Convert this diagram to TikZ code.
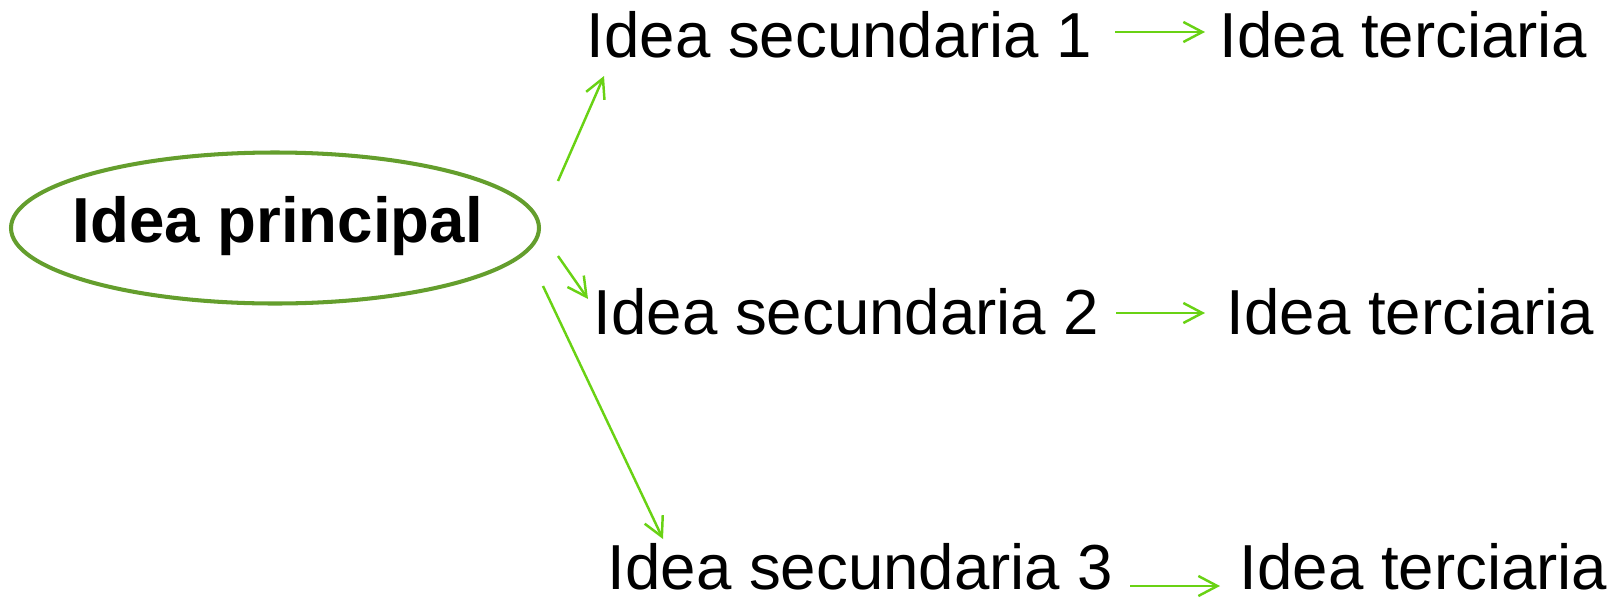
\documentclass[tikz,border=0pt]{standalone}
\usepackage{fontspec}
\setmainfont{Liberation Sans}
\usetikzlibrary{arrows.meta,shapes.geometric}
\definecolor{verdeoscuro}{RGB}{100,158,45}
\definecolor{verdeclaro}{RGB}{105,210,20}
\tikzset{
  idea/.style={anchor=base west,inner sep=0pt,font=\fontsize{18.1}{22}\selectfont},
  flecha/.style={->,>={Straight Barb[length=0.19cm,width=0.2cm]},draw=verdeclaro,line width=0.7pt}
}

\begin{document}
\begin{tikzpicture}
  \useasboundingbox (0,0) rectangle (16.18,-5.97);

  % idea principal
  \node[draw=verdeoscuro,line width=1.15pt,ellipse,inner sep=0pt,minimum width=5.28cm,minimum height=1.51cm] (ppal) at (2.75,-2.28) {};
  \node[idea,font=\fontsize{18.1}{22}\selectfont\bfseries] (tppal) at (0.72,-2.42) {Idea principal};

  % ideas secundarias
  \node[idea] (sec1) at (5.86,-0.57) {Idea secundaria 1};
  \node[idea] (sec2) at (5.93,-3.34) {Idea secundaria 2};
  \node[idea] (sec3) at (6.07,-5.89) {Idea secundaria 3};

  % ideas terciarias
  \node[idea] (ter1) at (12.19,-0.57) {Idea terciaria};
  \node[idea] (ter2) at (12.26,-3.34) {Idea terciaria};
  \node[idea] (ter3) at (12.39,-5.89) {Idea terciaria};

  % extremos de las flechas
  \coordinate (a1) at (5.58,-1.81);
  \coordinate (b1) at (6.04,-0.76);
  \coordinate (a2) at (5.58,-2.56);
  \coordinate (b2) at (5.88,-2.99);
  \coordinate (a3) at (5.43,-2.86);
  \coordinate (b3) at (6.63,-5.39);
  \coordinate (c1) at (11.15,-0.32);
  \coordinate (d1) at (12.05,-0.32);
  \coordinate (c2) at (11.16,-3.13);
  \coordinate (d2) at (12.05,-3.13);
  \coordinate (c3) at (11.30,-5.86);
  \coordinate (d3) at (12.20,-5.86);

  \draw[flecha] (a1) -- (b1);
  \draw[flecha] (a2) -- (b2);
  \draw[flecha] (a3) -- (b3);
  \draw[flecha] (c1) -- (d1);
  \draw[flecha] (c2) -- (d2);
  \draw[flecha] (c3) -- (d3);
\end{tikzpicture}
\end{document}
